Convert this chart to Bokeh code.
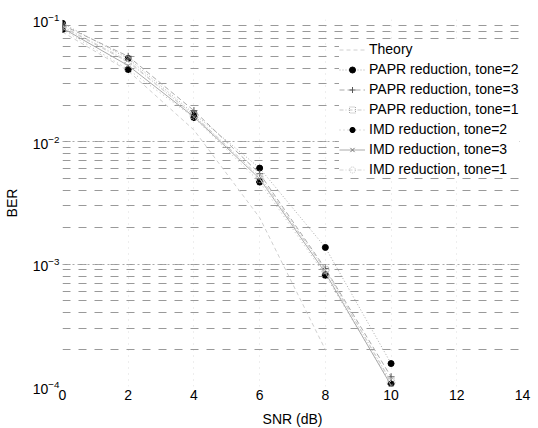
from bokeh.plotting import figure
from bokeh.embed import file_html
from bokeh.resources import INLINE
from bokeh.models import Legend, LegendItem, FixedTicker

snr = [0, 2, 4, 6, 8, 10]
theory = [0.079, 0.038, 0.0125, 0.0024, 0.0002]
papr_t2 = [0.093, 0.048, 0.017, 0.0061, 0.00137, 0.000154]
papr_t3 = [0.090, 0.050, 0.018, 0.0055, 0.00092, 0.00012]
papr_t1 = [0.087, 0.045, 0.0165, 0.0052, 0.00090, 0.00011]
imd_t2 = [0.083, 0.039, 0.0158, 0.0047, 0.00081, 0.000105]
imd_t3 = [0.085, 0.042, 0.0160, 0.0050, 0.00085, 0.000102]
imd_t1 = [0.088, 0.046, 0.0165, 0.0050, 0.00090, 0.000108]
x_ticks = [0, 2, 4, 6, 8, 10, 12, 14]

FONT = "Liberation Sans"

p = figure(frame_width=460, frame_height=367, y_axis_type="log", x_range=(0, 14), y_range=(1e-4, 1e-1),
           output_backend="svg", toolbar_location=None,
           min_border_left=61, min_border_right=17, min_border_top=19, min_border_bottom=42)
p.outline_line_color = None
p.background_fill_color = "white"

p.xaxis.ticker = FixedTicker(ticks=x_ticks)
p.yaxis.ticker.num_minor_ticks = 10
for ax in (p.xaxis[0], p.yaxis[0]):
    ax.axis_line_color = None
    ax.major_tick_line_color = None
    ax.minor_tick_line_color = None
    ax.major_tick_out = 0
    ax.minor_tick_out = 0
    ax.major_label_text_font = FONT
    ax.major_label_text_font_size = "14px"
    ax.major_label_text_color = "black"
    ax.axis_label_text_font = FONT
    ax.axis_label_text_font_size = "14px"
    ax.axis_label_text_font_style = "normal"
    ax.axis_label_text_color = "black"
p.xaxis.axis_label = "SNR (dB)"
p.yaxis.axis_label = "BER"
p.xaxis.major_label_standoff = 3
p.xaxis.axis_label_standoff = 8
p.yaxis.major_label_standoff = 3
p.yaxis.axis_label_standoff = 10

p.xgrid.grid_line_color = "#dddddd"
p.xgrid.grid_line_dash = "1 5"
p.ygrid.grid_line_color = "#aaaaaa"
p.ygrid.grid_line_dash = "2 3"
p.ygrid.minor_grid_line_color = "#999999"
p.ygrid.minor_grid_line_dash = "8 8"
p.ygrid.minor_grid_line_width = 1.2

items = []
r = p.line(snr[:len(theory)], theory, line_color="#d0d0d0", line_width=1, line_dash="4 3")
items.append(LegendItem(label="Theory", renderers=[r]))

r1 = p.line(snr, papr_t2, line_color="#aaaaaa", line_dash="1 2")
r1m = p.scatter(snr, papr_t2, marker="circle", size=6, fill_color="black", line_color="black")
items.append(LegendItem(label="PAPR reduction, tone=2", renderers=[r1, r1m]))

r2 = p.line(snr, papr_t3, line_color="#aaaaaa", line_dash="5 3")
r2m = p.scatter(snr, papr_t3, marker="cross", size=7, line_color="#555555")
items.append(LegendItem(label="PAPR reduction, tone=3", renderers=[r2, r2m]))

r3 = p.line(snr, papr_t1, line_color="#c8c8c8", line_dash="4 2 1 2")
r3m = p.scatter(snr, papr_t1, marker="square", size=6, fill_color=None, line_color="#aaaaaa", line_dash="1 1")
items.append(LegendItem(label="PAPR reduction, tone=1", renderers=[r3, r3m]))

r4 = p.line(snr, imd_t2, line_color="#bbbbbb", line_dash="1 3")
r4m = p.scatter(snr, imd_t2, marker="asterisk", size=7, line_color="black", line_width=2)
items.append(LegendItem(label="IMD reduction, tone=2", renderers=[r4, r4m]))

r5 = p.line(snr, imd_t3, line_color="#aaaaaa", line_width=1)
r5m = p.scatter(snr, imd_t3, marker="x", size=5, line_color="#777777")
items.append(LegendItem(label="IMD reduction, tone=3", renderers=[r5, r5m]))

r6 = p.line(snr, imd_t1, line_color="#d4d4d4", line_dash="4 2 1 2")
r6m = p.scatter(snr, imd_t1, marker="circle", size=8, fill_color=None, line_color="#c0c0c0", line_dash="1 1")
items.append(LegendItem(label="IMD reduction, tone=1", renderers=[r6, r6m]))

legend = Legend(items=items, location=(277, 209))
legend.label_text_font = FONT
legend.label_text_font_size = "14px"
legend.label_text_color = "black"
legend.border_line_color = None
legend.background_fill_alpha = 1.0
legend.glyph_width = 26
legend.glyph_height = 15
legend.label_height = 15
legend.spacing = 4
legend.margin = 0
legend.padding = 4
legend.label_standoff = 4
p.add_layout(legend)

open("out.html", "w").write(file_html(p, INLINE))
